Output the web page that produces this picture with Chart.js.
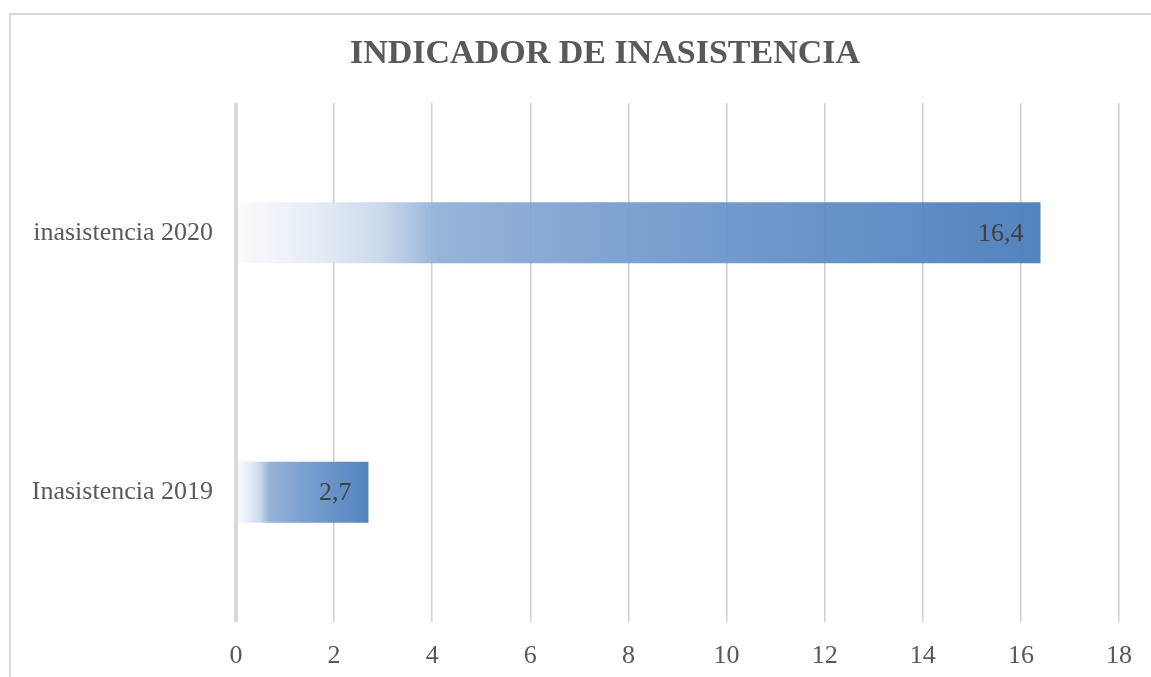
<!DOCTYPE html>
<html lang="es">
<head>
  <meta charset="UTF-8">
  <title>Indicador de inasistencia</title>
  <script src="https://cdn.jsdelivr.net/npm/chart.js"></script>
  <style>
    html, body { margin: 0; padding: 0; background: #fff; overflow: hidden; }
    .marco {
      position: absolute; left: 9px; top: 13px;
      width: 1188px; height: 680px;
      border: 2px solid #d9d9d9;
    }
  </style>
</head>
<body>
  <div class="marco">
    <canvas id="grafico" width="1188" height="680"></canvas>
  </div>
<script>
  // datos del grafico
  const titulo = 'INDICADOR DE INASISTENCIA'
  const categorias = ['inasistencia 2020', 'Inasistencia 2019']
  const valores = [16.4, 2.7]
  const etiquetas = ['16,4', '2,7']
  const ejeMin = 0
  const ejeMax = 18
  const paso = 2

  function degradado(context) {
    const chart = context.chart
    const area = chart.chartArea
    if (!area) return '#4a7dbb'
    const x = chart.scales.x
    const x0 = x.getPixelForValue(0)
    const x1 = x.getPixelForValue(context.raw)
    const g = chart.ctx.createLinearGradient(x0, 0, x1, 0)
    g.addColorStop(0, 'rgba(250,251,253,0.95)')
    g.addColorStop(0.1, 'rgba(228,235,245,0.95)')
    g.addColorStop(0.18, 'rgba(200,215,234,0.95)')
    g.addColorStop(0.25, 'rgba(146,176,214,0.95)')
    g.addColorStop(0.5, 'rgba(117,156,206,0.95)')
    g.addColorStop(1, 'rgba(74,125,187,0.95)')
    return g
  }

  // titulo centrado en todo el marco y etiquetas de valor
  const textos = {
    id: 'textos',
    afterDraw(chart) {
      const ctx = chart.ctx
      ctx.save()
      ctx.font = 'bold 34px "Liberation Serif"'
      ctx.fillStyle = '#595959'
      ctx.textAlign = 'center'
      ctx.textBaseline = 'middle'
      ctx.fillText(titulo, chart.width / 2, 39)

      const meta = chart.getDatasetMeta(0)
      ctx.font = '26px "Liberation Serif"'
      ctx.fillStyle = '#404040'
      ctx.textAlign = 'right'
      meta.data.forEach(function (barra, i) {
        ctx.fillText(etiquetas[i], barra.x - 17, barra.y + 1)
      })
      ctx.restore()
    }
  }

  new Chart(document.getElementById('grafico'), {
    type: 'bar',
    data: {
      labels: categorias,
      datasets: [{
        data: valores,
        backgroundColor: degradado,
        borderWidth: 0,
        barPercentage: 0.235,
        categoryPercentage: 1
      }]
    },
    plugins: [textos],
    options: {
      indexAxis: 'y',
      responsive: false,
      animation: false,
      layout: { padding: { left: 0, right: 80, top: 88, bottom: 0 } },
      plugins: {
        legend: { display: false },
        tooltip: { enabled: false },
        title: { display: false }
      },
      scales: {
        x: {
          min: ejeMin,
          max: ejeMax,
          afterFit(eje) { eje.height = 73 },
          ticks: {
            stepSize: paso,
            color: '#595959',
            padding: 19,
            font: { family: 'Liberation Serif', size: 26 }
          },
          grid: {
            drawTicks: false,
            color: function (c) { return c.tick && c.tick.value === 0 ? '#d9d9d9' : '#d0d0d0' },
            lineWidth: function (c) { return c.tick && c.tick.value === 0 ? 4 : 1.5 }
          },
          border: { display: false }
        },
        y: {
          afterFit(eje) { eje.width = 225 },
          ticks: {
            color: '#595959',
            padding: 23,
            font: { family: 'Liberation Serif', size: 26 }
          },
          grid: { display: false, drawTicks: false },
          border: { display: false }
        }
      }
    }
  })
</script>
</body>
</html>
